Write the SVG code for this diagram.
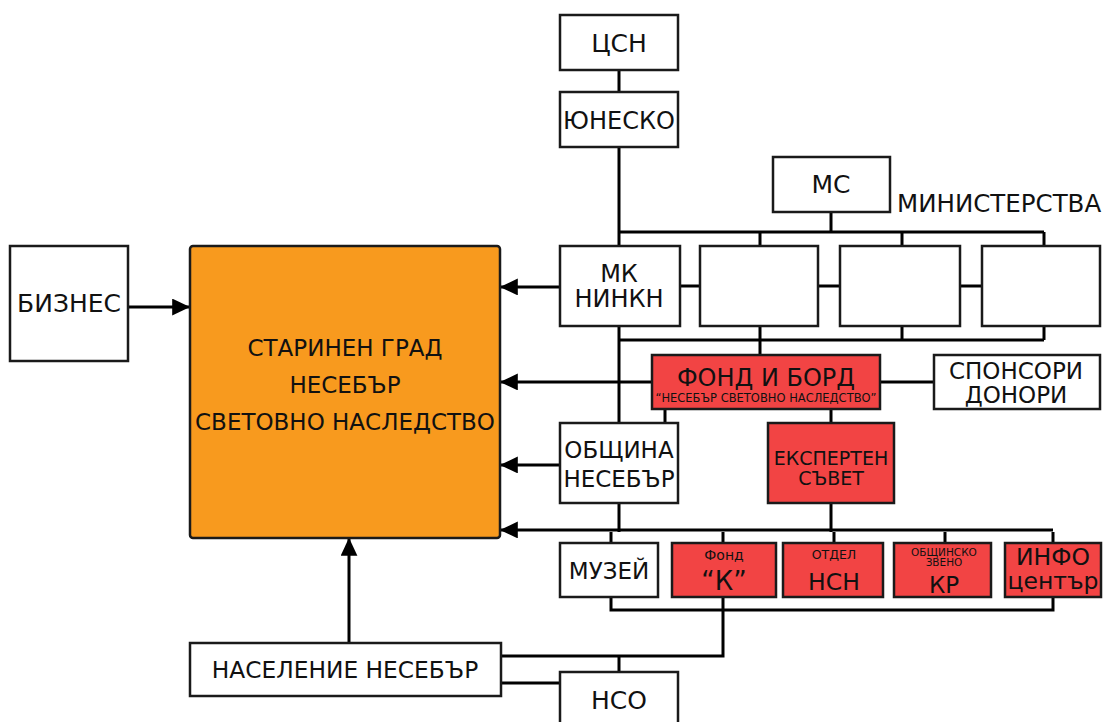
<svg xmlns="http://www.w3.org/2000/svg" width="1104" height="722" viewBox="0 0 1104 722">
<defs>
<style>
.b{fill:#fff;stroke:#1a1a1a;stroke-width:2.5}
.r{fill:#f24444;stroke:#1a1a1a;stroke-width:2.5}
.o{fill:#f89a1e;stroke:#1a1a1a;stroke-width:2.5}
.c{fill:none;stroke:#000;stroke-width:3}
text{font-family:"DejaVu Sans","Liberation Sans",sans-serif;fill:#111;text-anchor:middle}
</style>
<marker id="ah" markerWidth="6" markerHeight="6" refX="5.6" refY="2.8" orient="auto" markerUnits="strokeWidth">
<path d="M0,0 L6,2.8 L0,5.6 Z" fill="#000"/>
</marker>
</defs>
<rect width="1104" height="722" fill="#fff"/>
<g id="connectors">
<path class="c" d="M619,70 V92 M619,147 V246 M619,232 H1044 M831,212 V232 M760,232 V246 M902,232 V246 M1044,232 V246"/>
<path class="c" d="M680,286 H700 M818,286 H840 M960,286 H982"/>
<path class="c" d="M619,326 V423 M760,326 V355 M902,326 V340 M1044,326 V340 M619,340 H1044"/>
<path class="c" d="M880,382 H934 M665,409 V423 M831,409 V423"/>
<path class="c" d="M619,503 V532 M831,503 V532 M611,532 V543 M723,532 V543 M834,532 V543 M945,532 V543 M1053,532 V543"/>
<path class="c" d="M611,597 V610 H1053 V597 M723,597 V656 H500 M619,656 V672 M500,683 H560"/>
<path class="c" marker-end="url(#ah)" d="M129,307 H189"/>
<path class="c" marker-end="url(#ah)" d="M560,287 H501"/>
<path class="c" marker-end="url(#ah)" d="M652,382 H501"/>
<path class="c" marker-end="url(#ah)" d="M560,465 H501"/>
<path class="c" marker-end="url(#ah)" d="M1053,530 H501"/>
<path class="c" marker-end="url(#ah)" d="M349,643 V539"/>
</g>
<g id="tsn"><rect class="b" x="560" y="15" width="118" height="55"/><text x="619" y="52" font-size="25">ЦСН</text></g>
<g id="unesco"><rect class="b" x="560" y="92" width="118" height="55"/><text x="619" y="129" font-size="24">ЮНЕСКО</text></g>
<g id="ms"><rect class="b" x="773" y="157" width="117" height="55"/><text x="831" y="193" font-size="25">МС</text></g>
<g id="ministerstva"><text x="897" y="212" font-size="24.5" style="text-anchor:start">МИНИСТЕРСТВА</text></g>
<g id="mk"><rect class="b" x="560" y="246" width="120" height="80"/><text x="619" y="282" font-size="24">МК</text><text x="619" y="307" font-size="24">НИНКН</text></g>
<g id="m2"><rect class="b" x="700" y="246" width="118" height="80"/></g>
<g id="m3"><rect class="b" x="840" y="246" width="120" height="80"/></g>
<g id="m4"><rect class="b" x="982" y="246" width="118" height="80"/></g>
<g id="biznes"><rect class="b" x="10" y="246" width="118" height="115"/><text x="69" y="312" font-size="25">БИЗНЕС</text></g>
<g id="grad"><rect class="o" x="190" y="246" width="310" height="292" rx="3"/><text x="345" y="356" font-size="23">СТАРИНЕН ГРАД</text><text x="345" y="393" font-size="23">НЕСЕБЪР</text><text x="345" y="430" font-size="23">СВЕТОВНО НАСЛЕДСТВО</text></g>
<g id="fond"><rect class="r" x="652" y="355" width="228" height="54"/><text x="766" y="386" font-size="24">ФОНД И БОРД</text><text x="766" y="402" font-size="11.5">“НЕСЕБЪР СВЕТОВНО НАСЛЕДСТВО”</text></g>
<g id="sponsori"><rect class="b" x="934" y="355" width="166" height="54"/><text x="1016" y="379" font-size="23">СПОНСОРИ</text><text x="1016" y="403" font-size="23">ДОНОРИ</text></g>
<g id="obshtina"><rect class="b" x="560" y="423" width="118" height="80"/><text x="619" y="458" font-size="23">ОБЩИНА</text><text x="619" y="487" font-size="23">НЕСЕБЪР</text></g>
<g id="ekspert"><rect class="r" x="768" y="423" width="126" height="80"/><text x="831" y="465" font-size="19">ЕКСПЕРТЕН</text><text x="831" y="485" font-size="19">СЪВЕТ</text></g>
<g id="muzei"><rect class="b" x="560" y="543" width="98" height="54"/><text x="609" y="579" font-size="23">МУЗЕЙ</text></g>
<g id="fondk"><rect class="r" x="672" y="543" width="104" height="54"/><text x="724" y="560" font-size="14">Фонд</text><text x="724" y="590" font-size="26">“К”</text></g>
<g id="otdel"><rect class="r" x="783" y="543" width="100" height="54"/><text x="834" y="559" font-size="12.5">ОТДЕЛ</text><text x="834" y="590" font-size="23.5">НСН</text></g>
<g id="zveno"><rect class="r" x="894" y="543" width="97" height="54"/><text x="944" y="556" font-size="10.5">ОБЩИНСКО</text><text x="944" y="566" font-size="10.5">ЗВЕНО</text><text x="944" y="593" font-size="23">КР</text></g>
<g id="info"><rect class="r" x="1005" y="543" width="96" height="54"/><text x="1053" y="565" font-size="23.5">ИНФО</text><text x="1053" y="589" font-size="23.5">център</text></g>
<g id="naselenie"><rect class="b" x="190" y="643" width="311" height="53"/><text x="345" y="678" font-size="23.3">НАСЕЛЕНИЕ НЕСЕБЪР</text></g>
<g id="nso"><rect class="b" x="560" y="672" width="118" height="60"/><text x="619" y="709" font-size="25">НСО</text></g>
</svg>
